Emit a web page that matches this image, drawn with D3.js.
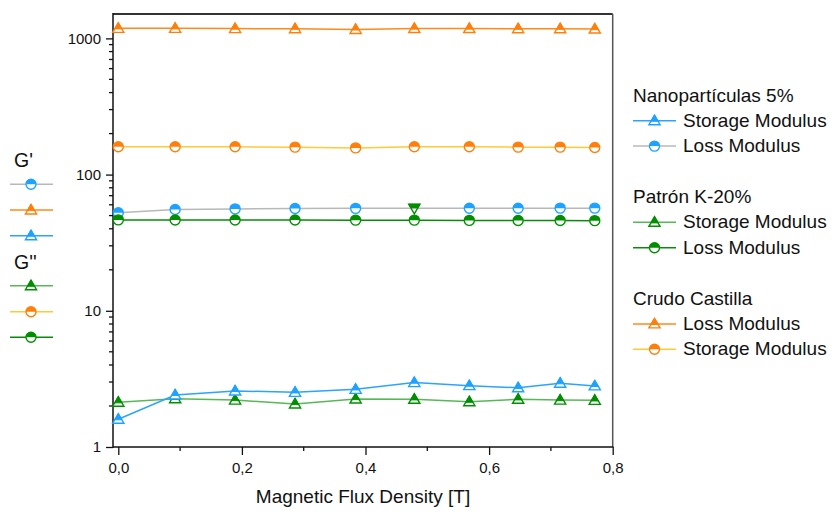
<!DOCTYPE html>
<html>
<head>
<meta charset="utf-8">
<script src="https://cdn.jsdelivr.net/npm/d3@7"></script>
<style>
  html, body { margin: 0; padding: 0; background: #fff; }
  svg { display: block; font-family: "Liberation Sans", Arial, sans-serif; }
</style>
</head>
<body>
<svg id="chart" width="832" height="513"></svg>
<script>
// ---------------- DATA ----------------
const fluxDensity = [0, 0.092, 0.189, 0.286, 0.384, 0.479, 0.568, 0.647, 0.715, 0.771];

const nanoStorage   = [1.60, 2.41, 2.58, 2.52, 2.65, 2.97, 2.82, 2.72, 2.94, 2.81];
const nanoLoss      = [52.5, 55.5, 56.0, 56.3, 56.5, 56.6, 56.6, 56.6, 56.7, 56.7];
const patronStorage = [2.13, 2.26, 2.21, 2.07, 2.25, 2.24, 2.15, 2.24, 2.21, 2.20];
const patronLoss    = [46.5, 46.4, 46.4, 46.4, 46.3, 46.3, 46.1, 46.0, 46.0, 45.9];
const crudoLoss     = [1185, 1185, 1180, 1177, 1163, 1181, 1181, 1177, 1177, 1171];
const crudoStorage  = [160, 160, 160, 159, 157, 160, 160, 159, 159, 158];

// symbol per point of the nano loss series (one point shown as a down triangle in the original)
const nanoLossSymbols = ["circle","circle","circle","circle","circle","triangleDown","circle","circle","circle","circle"];

const xTickValues = [0, 0.2, 0.4, 0.6, 0.8];
const xMinorTicks = [0.1, 0.3, 0.5, 0.7];
const yTickValues = [1, 10, 100, 1000];

const xTitle = "Magnetic Flux Density [T]";

const groupTitles = ["Nanopartículas 5%", "Patrón K-20%", "Crudo Castilla"];

// ---------------- STYLE ----------------
const C = {
  blue: "#1ea2ff", blueLine: "#2aa4ff", gray: "#b8b8b8",
  green: "#008f00", greenLight: "#58b858", greenDark: "#0a8a0a",
  orange: "#ff7f0a", orangeLine: "#ff8a1a", yellow: "#ffc93a"
};

const series = [
  {key: "crudoStorage", values: crudoStorage, line: C.yellow, marker: C.orange, sym: "circle"},
  {key: "crudoLoss", values: crudoLoss, line: C.orangeLine, marker: C.orange, sym: "triangle"},
  {key: "nanoLoss", values: nanoLoss, line: C.gray, marker: C.blue, sym: "circle", syms: nanoLossSymbols, altMarker: C.green},
  {key: "patronLoss", values: patronLoss, line: C.greenDark, marker: C.green, sym: "circle"},
  {key: "patronStorage", values: patronStorage, line: C.greenLight, marker: C.green, sym: "triangle"},
  {key: "nanoStorage", values: nanoStorage, line: C.blueLine, marker: C.blue, sym: "triangle"}
];
const byKey = Object.fromEntries(series.map(s => [s.key, s]));

const svg = d3.select("#chart");

const frame = {left: 113, right: 612.7, top: 14, bottom: 447};
const x = d3.scaleLinear().domain([0, 0.8]).range([118.3, 612.7]);
const y = d3.scaleLog().domain([1, 1510]).range([frame.bottom, frame.top]);

// ---------------- MARKERS ----------------
function drawMarker(g, cx, cy, sym, color) {
  const m = g.append("g").attr("transform", `translate(${cx},${cy})`);
  if (sym === "circle") {
    const r = 5;
    m.append("circle").attr("r", r).attr("fill", "#fff").attr("stroke", color).attr("stroke-width", 1.4);
    m.append("path").attr("d", `M${-r},0 A${r},${r} 0 0 1 ${r},0 Z`).attr("fill", color);
  } else if (sym === "triangle") {
    const a = -5.6, b = 4.0, w = 5.6;
    m.append("path").attr("d", `M0,${a} L${w},${b} L${-w},${b} Z`)
      .attr("fill", "#fff").attr("stroke", color).attr("stroke-width", 1.4).attr("stroke-linejoin", "miter");
    const mid = 0.6; const hw = w * (mid - a) / (b - a);
    m.append("path").attr("d", `M0,${a} L${hw},${mid} L${-hw},${mid} Z`).attr("fill", color).attr("stroke", color).attr("stroke-width", 1);
  } else if (sym === "triangleDown") {
    const a = 5.6, b = -4.0, w = 5.6;
    m.append("path").attr("d", `M0,${a} L${w},${b} L${-w},${b} Z`)
      .attr("fill", "none").attr("stroke", color).attr("stroke-width", 1.4);
    const mid = -0.6; const hw = w * (a - mid) / (a - b);
    m.append("path").attr("d", `M${-w},${b} L${w},${b} L${hw},${mid} L${-hw},${mid} Z`).attr("fill", color).attr("stroke", color).attr("stroke-width", 1);
  }
}

// ---------------- AXES ----------------
const xAxis = d3.axisBottom(x).tickValues(xTickValues).tickSize(8).tickSizeOuter(0)
  .tickFormat(d => d3.format(".1f")(d).replace(".", ","));
const gx = svg.append("g").attr("transform", `translate(0,${frame.bottom})`).call(xAxis);
gx.select(".domain").remove();
gx.selectAll("text").attr("font-size", 15).attr("fill", "#111").attr("dy", "0.71em").attr("y", 15)
  .style("font-family", "'Liberation Sans', Arial, sans-serif");
gx.selectAll("line").attr("stroke", "#111").attr("stroke-width", 1.3);
svg.append("g").selectAll("line").data(xMinorTicks).join("line")
  .attr("x1", d => x(d)).attr("x2", d => x(d)).attr("y1", frame.bottom).attr("y2", frame.bottom + 4)
  .attr("stroke", "#111").attr("stroke-width", 1.3);

const yAxis = d3.axisLeft(y).tickValues(yTickValues).tickSize(7).tickSizeOuter(0).tickFormat(d3.format("d"));
const gy = svg.append("g").attr("transform", `translate(${frame.left},0)`).call(yAxis);
gy.select(".domain").remove();
gy.selectAll("text").attr("font-size", 15).attr("fill", "#111").attr("x", -12)
  .style("font-family", "'Liberation Sans', Arial, sans-serif");
gy.selectAll("line").attr("stroke", "#111").attr("stroke-width", 1.3);
const yMinor = [];
for (const dec of [1, 10, 100, 1000]) for (let k = 2; k <= 9; k++) { const v = k * dec; if (v <= 1510) yMinor.push(v); }
svg.append("g").selectAll("line").data(yMinor).join("line")
  .attr("x1", frame.left - 4).attr("x2", frame.left).attr("y1", d => y(d)).attr("y2", d => y(d))
  .attr("stroke", "#111").attr("stroke-width", 1.3);

// frame
svg.append("line").attr("x1", frame.left).attr("x2", frame.right).attr("y1", frame.top).attr("y2", frame.top)
  .attr("stroke", "#333").attr("stroke-width", 2);
svg.append("line").attr("x1", frame.right).attr("x2", frame.right).attr("y1", frame.top).attr("y2", frame.bottom)
  .attr("stroke", "#555").attr("stroke-width", 1.5);
svg.append("line").attr("x1", frame.left).attr("x2", frame.left).attr("y1", frame.top - 1).attr("y2", frame.bottom + 0.7)
  .attr("stroke", "#111").attr("stroke-width", 1.5);
svg.append("line").attr("x1", frame.left).attr("x2", frame.right + 0.7).attr("y1", frame.bottom).attr("y2", frame.bottom)
  .attr("stroke", "#111").attr("stroke-width", 1.5);

svg.append("text").attr("x", 363).attr("y", 503).attr("text-anchor", "middle")
  .attr("font-size", 19).attr("fill", "#111").text(xTitle);

// ---------------- SERIES ----------------
const plot = svg.append("g");
const line = d3.line().x((d, i) => x(fluxDensity[i])).y(d => y(d));
series.forEach(s => {
  plot.append("path").attr("d", line(s.values)).attr("fill", "none")
    .attr("stroke", s.line).attr("stroke-width", 1.5);
});
series.forEach(s => {
  s.values.forEach((v, i) => {
    const sym = s.syms ? s.syms[i] : s.sym;
    const col = (s.syms && sym !== s.sym) ? s.altMarker : s.marker;
    drawMarker(plot, x(fluxDensity[i]), y(v), sym, col);
  });
});

// ---------------- RIGHT LEGEND ----------------
const legendGroups = [
  {title: groupTitles[0], items: [["nanoStorage", "Storage Modulus"], ["nanoLoss", "Loss Modulus"]]},
  {title: groupTitles[1], items: [["patronStorage", "Storage Modulus"], ["patronLoss", "Loss Modulus"]]},
  {title: groupTitles[2], items: [["crudoLoss", "Loss Modulus"], ["crudoStorage", "Storage Modulus"]]}
];
const leg = svg.append("g");
legendGroups.forEach((grp, gi) => {
  const base = 101.7 + gi * 101.6;
  leg.append("text").attr("x", 633).attr("y", base).attr("font-size", 19).attr("fill", "#111").text(grp.title);
  grp.items.forEach(([key, label], ii) => {
    const s = byKey[key];
    const ly = base + 19 + ii * 25.4;
    leg.append("line").attr("x1", 633).attr("x2", 676).attr("y1", ly).attr("y2", ly)
      .attr("stroke", s.line).attr("stroke-width", 1.5);
    drawMarker(leg, 654.5, ly, s.sym, s.marker);
    leg.append("text").attr("x", 683).attr("y", ly + 6).attr("font-size", 19).attr("fill", "#111").text(label);
  });
});

// ---------------- LEFT LEGEND ----------------
const leftLegend = [
  {title: "G'", y: 166.7, items: [["nanoLoss", 184.3], ["crudoLoss", 210], ["nanoStorage", 235.7]]},
  {title: "G''", y: 269.3, items: [["patronStorage", 285.7], ["crudoStorage", 311.7], ["patronLoss", 337.3]]}
];
const ll = svg.append("g");
leftLegend.forEach(grp => {
  ll.append("text").attr("x", 14).attr("y", grp.y).attr("font-size", 19.5).attr("fill", "#111").text(grp.title);
  grp.items.forEach(([key, ly]) => {
    const s = byKey[key];
    ll.append("line").attr("x1", 10).attr("x2", 53).attr("y1", ly).attr("y2", ly)
      .attr("stroke", s.line).attr("stroke-width", 1.5);
    drawMarker(ll, 31, ly, s.sym, s.marker);
  });
});
</script>
</body>
</html>
